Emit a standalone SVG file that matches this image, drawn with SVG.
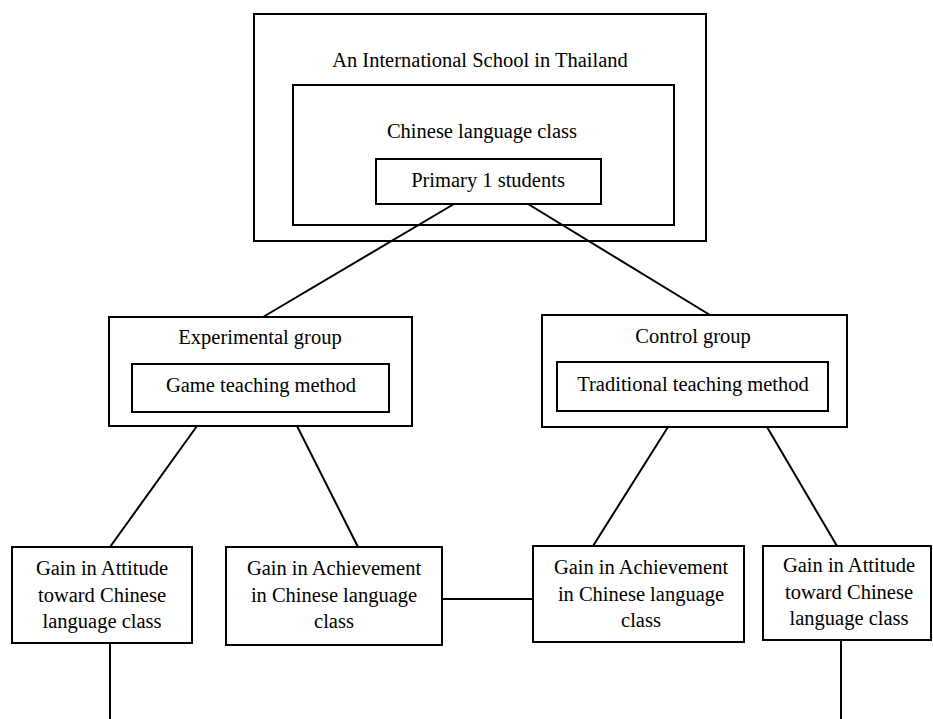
<svg xmlns="http://www.w3.org/2000/svg" width="933" height="719" viewBox="0 0 933 719">
<style>
rect{fill:none;stroke:#000;stroke-width:2}
line{stroke:#000;stroke-width:2}
text{font-family:"Liberation Serif","Times New Roman",serif;font-size:20.5px;fill:#000;text-anchor:middle}
</style>
<rect x="0" y="0" width="933" height="719" style="fill:#fff;stroke:none"/>
<g id="connectors">
<line x1="454" y1="204" x2="263" y2="317"/>
<line x1="528" y1="204" x2="710" y2="315"/>
<line x1="197" y1="426" x2="110" y2="547"/>
<line x1="297" y1="426" x2="358" y2="547"/>
<line x1="668" y1="427" x2="593" y2="546"/>
<line x1="767" y1="427" x2="837" y2="546"/>
<line x1="442" y1="599" x2="533" y2="599"/>
<line x1="110" y1="643" x2="110" y2="719"/>
<line x1="841" y1="640" x2="841" y2="719"/>
</g>
<g id="school">
<rect x="254" y="14" width="452" height="227"/>
<text x="480" y="67">An International School in Thailand</text>
</g>
<g id="class">
<rect x="293" y="85" width="381" height="140"/>
<text x="482" y="138">Chinese language class</text>
</g>
<g id="students">
<rect x="376" y="159" width="225" height="45"/>
<text x="488" y="187">Primary 1 students</text>
</g>
<g id="experimental">
<rect x="109" y="317" width="303" height="109"/>
<text x="260" y="344">Experimental group</text>
</g>
<g id="game">
<rect x="132" y="364" width="257" height="48"/>
<text x="261" y="392">Game teaching method</text>
</g>
<g id="control">
<rect x="542" y="315" width="305" height="112"/>
<text x="693" y="343">Control group</text>
</g>
<g id="traditional">
<rect x="557" y="362" width="271" height="49"/>
<text x="693" y="391">Traditional teaching method</text>
</g>
<g id="attitude-exp">
<rect x="12" y="547" width="180" height="96"/>
<text x="102" y="575">Gain in Attitude</text>
<text x="102" y="602">toward Chinese</text>
<text x="102" y="628">language class</text>
</g>
<g id="achievement-exp">
<rect x="226" y="547" width="216" height="98"/>
<text x="334" y="575">Gain in Achievement</text>
<text x="334" y="602">in Chinese language</text>
<text x="334" y="628">class</text>
</g>
<g id="achievement-ctrl">
<rect x="533" y="546" width="211" height="96"/>
<text x="641" y="574">Gain in Achievement</text>
<text x="641" y="601">in Chinese language</text>
<text x="641" y="627">class</text>
</g>
<g id="attitude-ctrl">
<rect x="763" y="546" width="168" height="94"/>
<text x="849" y="572">Gain in Attitude</text>
<text x="849" y="599">toward Chinese</text>
<text x="849" y="625">language class</text>
</g>
</svg>
